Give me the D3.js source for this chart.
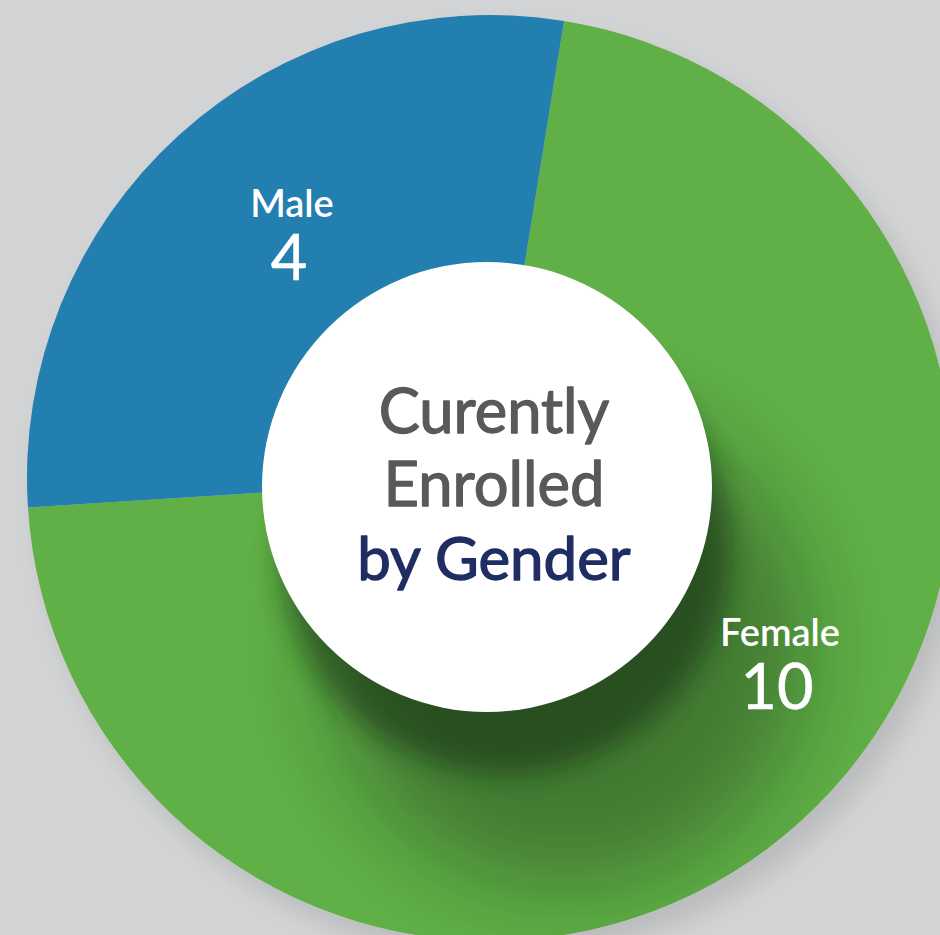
<!DOCTYPE html>
<html>
<head>
<meta charset="utf-8">
<script src="https://cdn.jsdelivr.net/npm/d3@7"></script>
<style>
  html, body { margin: 0; padding: 0; background: #d3d4d6; }
  svg { display: block; }
</style>
</head>
<body>
<svg id="chart" width="940" height="935"></svg>
<script>
// ---- data ----
const categories = ["Female", "Male"];
const values = [10, 4];
const colors = ["#61b046", "#237fb0"];
const titleLines = ["Curently", "Enrolled", "by Gender"];

// ---- layout ----
const W = 940, H = 935;
const cx = 490, cy = 478, outerR = 463, innerR = 200;
const hole = { x: 487, y: 487, r: 225 };
const startDeg = 9.2;

const svg = d3.select("#chart");
svg.append("rect").attr("width", W).attr("height", H).attr("fill", "#d3d4d6");

const defs = svg.append("defs");
// donut shadow
const f1 = defs.append("filter").attr("id", "donutShadow")
  .attr("x", "-20%").attr("y", "-20%").attr("width", "140%").attr("height", "140%");
f1.append("feDropShadow").attr("dx", 12).attr("dy", 16).attr("stdDeviation", 14)
  .attr("flood-color", "#000").attr("flood-opacity", 0.12);

// hole shadows
const f2 = defs.append("filter").attr("id", "holeShadowA")
  .attr("x", "-60%").attr("y", "-60%").attr("width", "220%").attr("height", "220%");
f2.append("feGaussianBlur").attr("stdDeviation", 13);
const f3 = defs.append("filter").attr("id", "holeShadowB")
  .attr("x", "-80%").attr("y", "-80%").attr("width", "260%").attr("height", "260%");
f3.append("feGaussianBlur").attr("stdDeviation", 45);

const pie = d3.pie().sort(null).value(d => d)
  .startAngle(startDeg * Math.PI / 180)
  .endAngle((startDeg + 360) * Math.PI / 180);
const arcs = pie(values);
const arc = d3.arc().innerRadius(innerR).outerRadius(outerR);

const gDonut = svg.append("g").attr("transform", `translate(${cx},${cy})`)
  .attr("filter", "url(#donutShadow)");
gDonut.selectAll("path").data(arcs).join("path")
  .attr("d", arc)
  .attr("fill", (d, i) => colors[i]);

// clip shadows to donut
const clip = defs.append("clipPath").attr("id", "donutClip");
clip.append("circle").attr("cx", cx).attr("cy", cy).attr("r", outerR);

const gSh = svg.append("g").attr("clip-path", "url(#donutClip)");
gSh.append("circle").attr("cx", hole.x + 80).attr("cy", hole.y + 160).attr("r", hole.r + 15)
  .attr("fill", "#0d1f08").attr("opacity", 0.36).attr("filter", "url(#holeShadowB)");
gSh.append("circle").attr("cx", hole.x + 18).attr("cy", hole.y + 62).attr("r", hole.r)
  .attr("fill", "#0d1f08").attr("opacity", 0.45).attr("filter", "url(#holeShadowA)");

// white hole
svg.append("circle").attr("cx", hole.x).attr("cy", hole.y).attr("r", hole.r).attr("fill", "#ffffff");

// center title
const titleColors = ["#58595b", "#58595b", "#1f2d63"];
const baselines = [433, 506, 580];
svg.append("g").selectAll("text").data(titleLines).join("text")
  .attr("x", 494).attr("y", (d, i) => baselines[i])
  .attr("text-anchor", "middle")
  .attr("font-family", "Lato, 'Open Sans', sans-serif")
  .attr("font-weight", 400)
  .attr("font-size", (d, i) => i < 2 ? 61.5 : 60)
  .attr("fill", (d, i) => titleColors[i])
  .attr("stroke", (d, i) => titleColors[i])
  .attr("stroke-width", 1.3)
  .attr("stroke-linejoin", "round")
  .text(d => d);

// slice labels (polar placement)
const labelPos = [
  { deg: 122.8, r: 345 },
  { deg: 320.7, r: 312.7 }
];
const gLab = svg.append("g");
arcs.forEach((a, i) => {
  const p = labelPos[i];
  const ang = p.deg * Math.PI / 180;
  const x = cx + p.r * Math.sin(ang);
  const y = cy - p.r * Math.cos(ang);
  gLab.append("text").attr("x", x).attr("y", y - 19)
    .attr("text-anchor", "middle")
    .attr("font-family", "Lato, 'Open Sans', sans-serif")
    .attr("font-weight", 600).attr("font-size", 38).attr("fill", "#ffffff")
    .text(categories[i]);
  gLab.append("text").attr("x", x - 3).attr("y", y + 44)
    .attr("text-anchor", "middle")
    .attr("font-family", "Lato, 'Open Sans', sans-serif")
    .attr("font-weight", 400).attr("font-size", 63).attr("fill", "#ffffff")
    .attr("stroke", "#ffffff").attr("stroke-width", 0.6)
    .text(a.data);
});
</script>
</body>
</html>
